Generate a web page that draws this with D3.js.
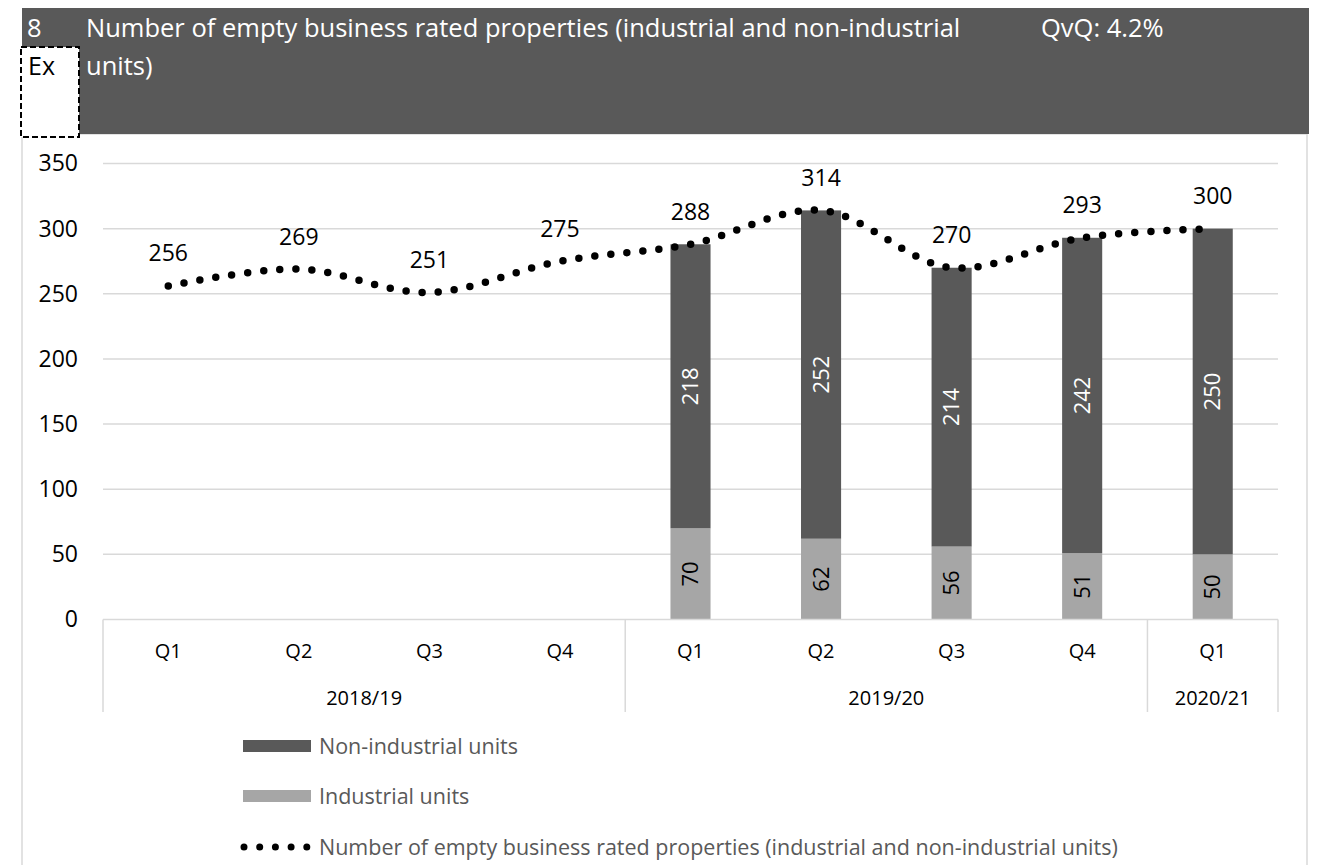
<!DOCTYPE html>
<html>
<head>
<meta charset="utf-8">
<script src="https://cdn.jsdelivr.net/npm/d3@7"></script>
<style>
  html, body { margin: 0; padding: 0; background: #ffffff; }
  svg { display: block; font-family: "Open Sans", sans-serif; }
</style>
</head>
<body>
<svg id="chart" width="1331" height="865"></svg>
<script>
// ---- data ----
const categories = ["Q1", "Q2", "Q3", "Q4", "Q1", "Q2", "Q3", "Q4", "Q1"];
const yearLabels = ["2018/19", "2019/20", "2020/21"];
const yearSpans = [4, 4, 1];
const totals = [256, 269, 251, 275, 288, 314, 270, 293, 300];
const nonIndustrial = [null, null, null, null, 218, 252, 214, 242, 250];
const industrial = [null, null, null, null, 70, 62, 56, 51, 50];
const yTicks = [0, 50, 100, 150, 200, 250, 300, 350];
const titleNumber = "8";
const titleLines = ["Number of empty business rated properties (industrial and non-industrial", "units)"];
const qvqText = "QvQ: 4.2%";
const exText = "Ex";
const legendLabels = ["Non-industrial units", "Industrial units", "Number of empty business rated properties (industrial and non-industrial units)"];

// ---- layout ----
const svg = d3.select("#chart");
const plot = { left: 103, right: 1278, top: 163.5, bottom: 619.5 };
const darkGrey = "#595959", lightGrey = "#a6a6a6", gridCol = "#d9d9d9";

// panel
svg.append("rect").attr("x", 22).attr("y", 134).attr("width", 1285).attr("height", 760)
  .attr("fill", "#fff").attr("stroke", gridCol).attr("stroke-width", 1.5);

// header
svg.append("rect").attr("x", 22).attr("y", 8).attr("width", 1287).attr("height", 126).attr("fill", darkGrey);
svg.append("text").attr("x", 27).attr("y", 37).attr("fill", "#fff").attr("font-size", 25.5).text(titleNumber);
titleLines.forEach((t, i) => {
  svg.append("text").attr("x", 86).attr("y", 37 + i * 38).attr("fill", "#fff").attr("font-size", 25.5).text(t);
});
svg.append("text").attr("x", 1041).attr("y", 37).attr("fill", "#fff").attr("font-size", 25.5).text(qvqText);

// Ex box
svg.append("rect").attr("x", 21).attr("y", 47).attr("width", 58).attr("height", 90)
  .attr("fill", "#fff").attr("stroke", "#000").attr("stroke-width", 2).attr("stroke-dasharray", "6,3");
svg.append("text").attr("x", 28).attr("y", 75).attr("fill", "#000").attr("font-size", 25).text(exText);

// scales
const x = d3.scaleBand().domain(d3.range(categories.length)).range([plot.left, plot.right]).padding(0);
const y = d3.scaleLinear().domain([0, 350]).range([plot.bottom, plot.top]);
const cx = i => x(i) + x.bandwidth() / 2;

// gridlines
svg.append("g").selectAll("line").data(yTicks.filter(d => d > 0)).join("line")
  .attr("x1", plot.left).attr("x2", plot.right)
  .attr("y1", d => y(d)).attr("y2", d => y(d))
  .attr("stroke", gridCol).attr("stroke-width", 1.5);

// y axis labels
const yAxis = d3.axisLeft(y).tickValues(yTicks).tickSize(0).tickPadding(0);
const gy = svg.append("g").attr("transform", `translate(78,0)`).call(yAxis);
gy.select(".domain").remove();
gy.selectAll("text").attr("font-size", 23).attr("fill", "#000").attr("font-family", "Open Sans, sans-serif");

// bars
const barW = x.bandwidth() * 0.307;
const idx = d3.range(categories.length).filter(i => industrial[i] != null);
svg.append("g").selectAll("rect").data(idx).join("rect")
  .attr("x", i => cx(i) - barW / 2).attr("width", barW)
  .attr("y", i => y(industrial[i])).attr("height", i => y(0) - y(industrial[i]))
  .attr("fill", lightGrey);
svg.append("g").selectAll("rect").data(idx).join("rect")
  .attr("x", i => cx(i) - barW / 2).attr("width", barW)
  .attr("y", i => y(industrial[i] + nonIndustrial[i]))
  .attr("height", i => y(industrial[i]) - y(industrial[i] + nonIndustrial[i]))
  .attr("fill", darkGrey);

// bar labels (rotated)
svg.append("g").selectAll("text").data(idx).join("text")
  .attr("transform", i => `translate(${cx(i)},${(y(industrial[i]) + y(industrial[i] + nonIndustrial[i])) / 2}) rotate(-90)`)
  .attr("text-anchor", "middle").attr("dy", "0.35em")
  .attr("font-size", 22).attr("fill", "#fff").text(i => nonIndustrial[i]);
svg.append("g").selectAll("text").data(idx).join("text")
  .attr("transform", i => `translate(${cx(i)},${(y(0) + y(industrial[i])) / 2}) rotate(-90)`)
  .attr("text-anchor", "middle").attr("dy", "0.35em")
  .attr("font-size", 22).attr("fill", "#000").text(i => industrial[i]);

// category axis
svg.append("line").attr("x1", plot.left).attr("x2", plot.right).attr("y1", plot.bottom).attr("y2", plot.bottom)
  .attr("stroke", gridCol).attr("stroke-width", 1.5);
let bounds = [0];
yearSpans.forEach(s => bounds.push(bounds[bounds.length - 1] + s));
const bx = b => b < categories.length ? x(b) : plot.right;
svg.append("g").selectAll("line").data(bounds).join("line")
  .attr("x1", b => bx(b)).attr("x2", b => bx(b))
  .attr("y1", plot.bottom).attr("y2", 712)
  .attr("stroke", gridCol).attr("stroke-width", 1.5);
svg.append("g").selectAll("text").data(categories).join("text")
  .attr("x", (d, i) => cx(i)).attr("y", 658).attr("text-anchor", "middle")
  .attr("font-size", 20).attr("fill", "#000").text(d => d);
svg.append("g").selectAll("text").data(yearLabels).join("text")
  .attr("x", (d, i) => (bx(bounds[i]) + bx(bounds[i + 1])) / 2).attr("y", 705).attr("text-anchor", "middle")
  .attr("font-size", 20).attr("fill", "#000").text(d => d);

// line
const line = d3.line().x((d, i) => cx(i)).y(d => y(d)).curve(d3.curveCatmullRom.alpha(0.5));
svg.append("path").datum(totals).attr("d", line)
  .attr("fill", "none").attr("stroke", "#000").attr("stroke-width", 7.5)
  .attr("stroke-linecap", "round").attr("stroke-dasharray", "0 16.1");
svg.append("g").selectAll("text").data(totals).join("text")
  .attr("x", (d, i) => cx(i)).attr("y", d => y(d) - 24.5).attr("text-anchor", "middle")
  .attr("font-size", 23).attr("fill", "#000").text(d => d);

// legend
const lg = svg.append("g");
const rows = [746, 796, 847];
lg.append("rect").attr("x", 243).attr("y", rows[0] - 6).attr("width", 68).attr("height", 12).attr("fill", darkGrey);
lg.append("rect").attr("x", 243).attr("y", rows[1] - 6).attr("width", 68).attr("height", 12).attr("fill", lightGrey);
lg.append("line").attr("x1", 244).attr("x2", 307).attr("y1", rows[2]).attr("y2", rows[2])
  .attr("stroke", "#000").attr("stroke-width", 7).attr("stroke-linecap", "round").attr("stroke-dasharray", "0 15.7");
legendLabels.forEach((t, i) => {
  lg.append("text").attr("x", 319).attr("y", rows[i]).attr("dy", "0.35em")
    .attr("font-size", 21.5).attr("fill", darkGrey).text(t);
});
</script>
</body>
</html>
